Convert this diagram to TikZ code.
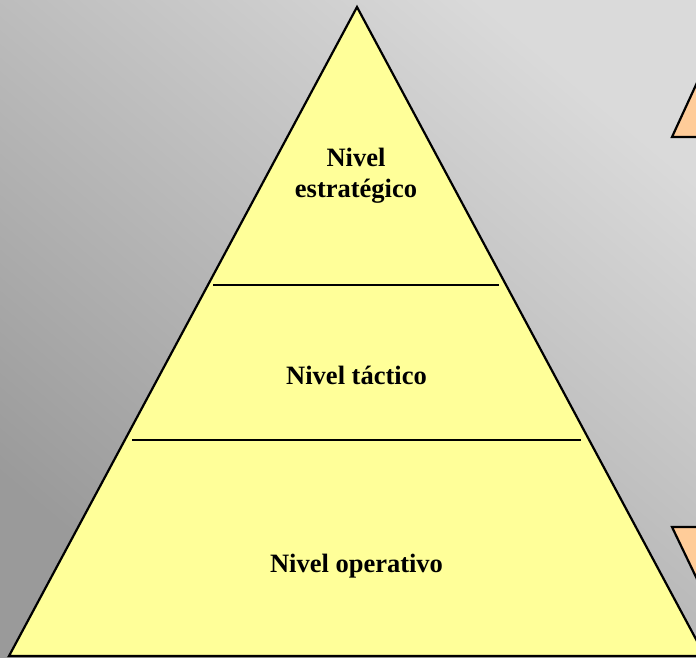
\documentclass[tikz,border=0pt]{standalone}
\usepackage{fontspec}
\setmainfont{Liberation Serif}
\definecolor{pyellow}{HTML}{FFFF99}
\definecolor{porange}{HTML}{FFCC99}
\definecolor{bglight}{HTML}{DADADA}
\definecolor{bgdark}{HTML}{9A9A9A}
\begin{document}
\begin{tikzpicture}[x=1pt,y=-1pt,
  outline/.style={draw=black,line width=2.2pt,line join=miter},
  divider/.style={draw=black,line width=1.8pt},
  lbl/.style={font=\fontsize{26.5}{31}\selectfont\bfseries,align=center,anchor=base,inner sep=0pt}]
\useasboundingbox (0,0) rectangle (696,657);
\clip (0,0) rectangle (696,657);
\shade[top color=bglight,bottom color=bgdark,shading angle=-40] (0,0) rectangle (696,657);
% side triangles
\draw[outline,fill=porange] (672,137) -- (718,37) -- (764,137) -- cycle;
\draw[outline,fill=porange] (672,527) -- (768,527) -- (720,627) -- cycle;
% main pyramid
\coordinate (apex) at (357,7);
\coordinate (bl) at (9,656);
\coordinate (br) at (705,656);
\draw[outline,fill=pyellow] (apex) -- (br) -- (bl) -- cycle;
\coordinate (d1l) at (213,285);
\coordinate (d1r) at (499,285);
\coordinate (d2l) at (132,440);
\coordinate (d2r) at (581,440);
\draw[divider] (d1l) -- (d1r);
\draw[divider] (d2l) -- (d2r);
\node[lbl] (est) at (356,197) {Nivel\\estratégico};
\node[lbl] (tac) at (356.5,384) {Nivel táctico};
\node[lbl] (ope) at (356.5,572) {Nivel operativo};
\end{tikzpicture}
\end{document}
